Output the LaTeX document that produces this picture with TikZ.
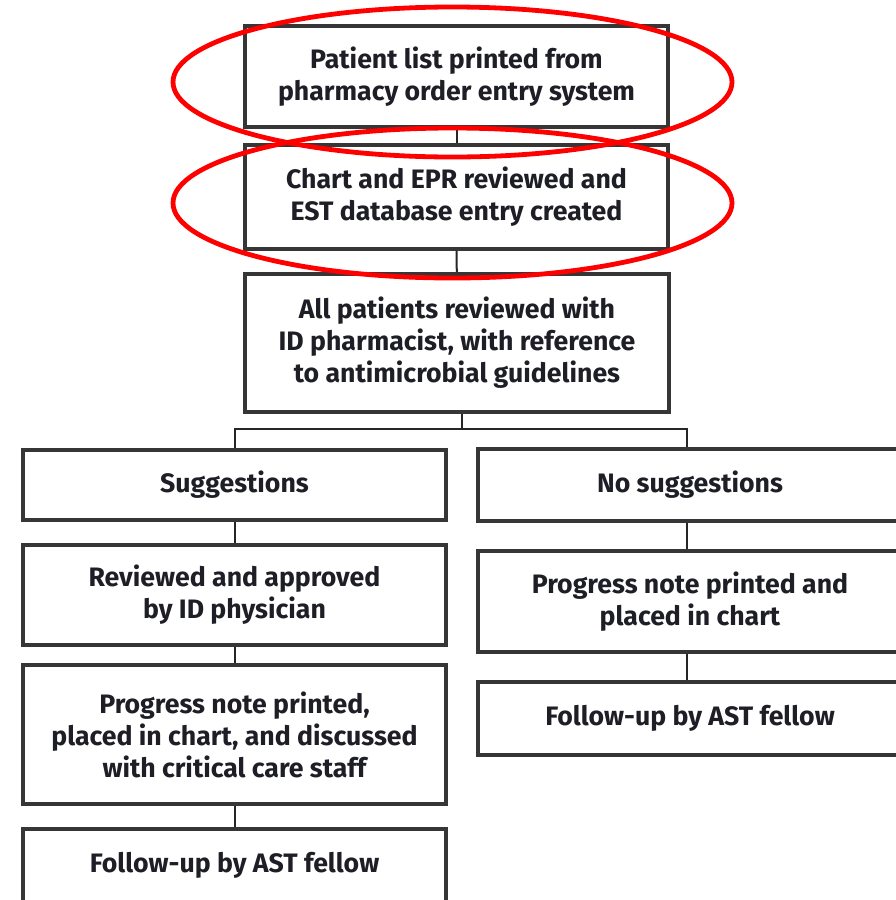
\documentclass[tikz,border=0pt]{standalone}
\usepackage{fontspec}
\setmainfont{Fira Sans}
\begin{document}
\begin{tikzpicture}[x=0.75pt,y=-0.75pt,
  stepbox/.style={draw=boxgray, line width=3pt, fill=white, inner sep=0pt,
    align=center, text=txt, font=\fontsize{20}{24}\selectfont\bfseries},
  link/.style={draw=linkgray, line width=1.5pt},
  mark ring/.style={draw=red, line width=3.6pt}]
\definecolor{boxgray}{HTML}{363636}
\definecolor{linkgray}{HTML}{262626}
\definecolor{txt}{HTML}{1E1E26}
\useasboundingbox (0,0) rectangle (896,900);
\clip (0,0) rectangle (896,900);

% main chain
\node[stepbox, minimum width=423*0.75pt, minimum height=101*0.75pt] (list) at (456.5,76.5)
  {Patient list printed from\\pharmacy order entry system};
\node[stepbox, minimum width=423*0.75pt, minimum height=104*0.75pt] (chart) at (456.5,197)
  {Chart and EPR reviewed and\\EST database entry created};
\node[stepbox, minimum width=424*0.75pt, minimum height=138*0.75pt] (review) at (457,343)
  {All patients reviewed with\\ID pharmacist, with reference\\to antimicrobial guidelines};

% left branch
\node[stepbox, minimum width=423*0.75pt, minimum height=70*0.75pt] (sugg) at (234.5,485)
  {\raisebox{-2\dimexpr0.75pt\relax}{Suggestions}};
\node[stepbox, minimum width=423*0.75pt, minimum height=100*0.75pt] (approve) at (234.5,595)
  {Reviewed and approved\\by ID physician};
\node[stepbox, minimum width=423*0.75pt, minimum height=139*0.75pt] (noteL) at (234.5,734.5)
  {Progress note printed,\\placed in chart, and discussed\\with critical care staff};
\node[stepbox, minimum width=423*0.75pt, minimum height=73*0.75pt] (followL) at (234.5,865.5)
  {\raisebox{3\dimexpr0.75pt\relax}{Follow-up by AST fellow}};

% right branch
\node[stepbox, minimum width=424*0.75pt, minimum height=72*0.75pt] (nosugg) at (690,485)
  {\raisebox{-2\dimexpr0.75pt\relax}{No suggestions}};
\node[stepbox, minimum width=424*0.75pt, minimum height=101*0.75pt] (noteR) at (690,601.5)
  {Progress note printed and\\placed in chart};
\node[stepbox, minimum width=424*0.75pt, minimum height=73*0.75pt] (followR) at (690,718.5)
  {\raisebox{-2\dimexpr0.75pt\relax}{Follow-up by AST fellow}};

% connectors
\coordinate (split) at (462,429);
\coordinate (rx) at (687,0);
\draw[link] (list) -- (chart);
\draw[link] (chart) -- (review);
\draw[link] (review.south -| split) -- (split);
\draw[link] (sugg.north) |- (split) -| (nosugg.north -| rx);
\draw[link] (sugg) -- (approve);
\draw[link] (approve) -- (noteL);
\draw[link] (noteL) -- (followL);
\draw[link] (nosugg.south -| rx) -- (noteR.north -| rx);
\draw[link] (noteR.south -| rx) -- (followR.north -| rx);

% red highlight rings
\draw[mark ring] (452.5,82) ellipse [x radius=279.5, y radius=75];
\draw[mark ring] (452.5,203) ellipse [x radius=279.5, y radius=75];
\end{tikzpicture}
\end{document}
